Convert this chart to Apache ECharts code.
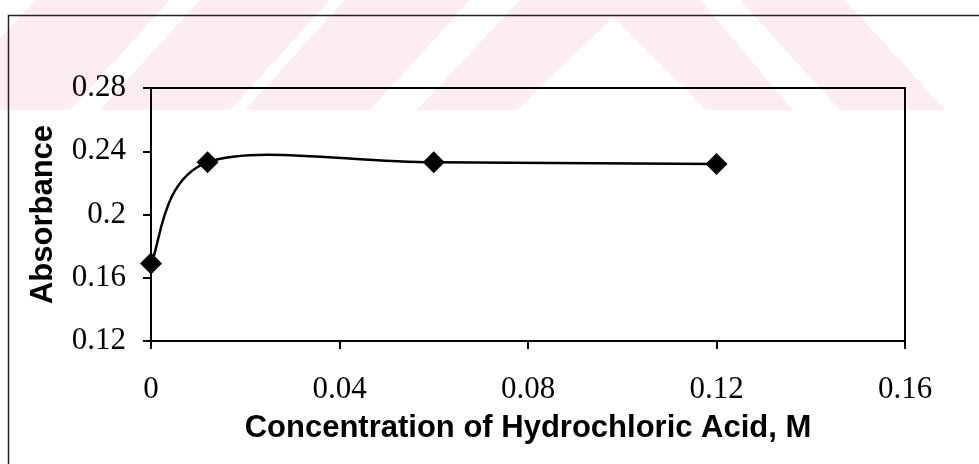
<!DOCTYPE html>
<html>
<head>
<meta charset="utf-8">
<script src="https://cdn.jsdelivr.net/npm/echarts@6/dist/echarts.min.js"></script>
<style>
  html, body { margin: 0; padding: 0; background: #fff; }
  #chart { width: 979px; height: 464px; }
</style>
</head>
<body>
<div id="chart"></div>
<script>
// HCl concentration (M) and measured absorbance
const concentration = [0, 0.012, 0.06, 0.12];
const absorbance = [0.169, 0.233, 0.233, 0.232];

// axis settings
const xTicks = { min: 0, max: 0.16, interval: 0.04 };
const yTicks = { min: 0.12, max: 0.28, interval: 0.04 };

const xTitle = 'Concentration of Hydrochloric Acid, M';
const yTitle = 'Absorbance';

const points = concentration.map((c, i) => [c, absorbance[i]]);

const pink = 'rgb(253,237,240)';
const bandH = 110;

// faint striped watermark along the top of the page
function stripe(x0, x1, shift) {
  return {
    type: 'polygon', z: -10, silent: true,
    shape: { points: [[x0, 0], [x1, 0], [x1 + shift, bandH], [x0 + shift, bandH]] },
    style: { fill: pink }
  };
}
const watermark = [
  stripe(-110, -15, -100),
  stripe(35, 170, -100),
  stripe(200, 330, -100),
  stripe(345, 470, -100),
  {
    type: 'polygon', z: -10, silent: true,
    shape: { points: [[520, 0], [700, 0], [793, bandH], [706, bandH], [613, 17], [517, bandH], [417, bandH]] },
    style: { fill: pink }
  },
  stripe(740, 845, 100)
];

// page frame (top and left edges)
const frame = {
  type: 'polyline', z: 5, silent: true,
  shape: { points: [[8.5, 464], [8.5, 15.5], [979, 15.5]] },
  style: { stroke: '#222', lineWidth: 1.5, fill: null }
};

// spreadsheet-style smoothed line: one cubic Bezier per segment,
// control points from neighbouring points (tension 1/6, capped at half the segment)
function smoothSegment(params, api) {
  const i = params.dataIndex;
  const n = points.length;
  if (i >= n - 1) return null;
  const p = k => api.coord(points[Math.max(0, Math.min(n - 1, k))]);
  const p0 = p(i - 1), p1 = p(i), p2 = p(i + 1), p3 = p(i + 2);
  const dist = (a, b) => Math.hypot(b[0] - a[0], b[1] - a[1]);
  const d12 = dist(p1, p2);
  const d02 = dist(p0, p2), d13 = dist(p1, p3);
  let f = 1 / 6, g = 1 / 6;
  if (d02 / 6 > d12 / 2 && d02 > 0) f = d12 / 2 / d02;
  if (d13 / 6 > d12 / 2 && d13 > 0) g = d12 / 2 / d13;
  return {
    type: 'bezierCurve',
    shape: {
      x1: p1[0], y1: p1[1],
      cpx1: p1[0] + (p2[0] - p0[0]) * f, cpy1: p1[1] + (p2[1] - p0[1]) * f,
      cpx2: p2[0] - (p3[0] - p1[0]) * g, cpy2: p2[1] - (p3[1] - p1[1]) * g,
      x2: p2[0], y2: p2[1]
    },
    style: { stroke: '#000', lineWidth: 2.5, fill: null }
  };
}

const chart = echarts.init(document.getElementById('chart'), null, { renderer: 'canvas' });
chart.setOption({
  backgroundColor: '#fff',
  animation: false,
  graphic: watermark.concat([frame]),
  grid: {
    left: 151, right: 74, top: 88, bottom: 123,
    show: true, borderColor: '#000', borderWidth: 2, backgroundColor: 'transparent'
  },
  xAxis: {
    type: 'value',
    min: xTicks.min, max: xTicks.max, interval: xTicks.interval,
    name: xTitle,
    nameLocation: 'middle',
    nameGap: 72,
    nameTextStyle: { fontFamily: 'Liberation Sans, Arial, sans-serif', fontWeight: 'bold', fontSize: 31, color: '#000' },
    axisLine: { lineStyle: { color: '#000', width: 2 } },
    axisTick: { show: true, length: 8, lineStyle: { color: '#000', width: 2 } },
    axisLabel: { margin: 33, fontFamily: 'Liberation Serif, Times New Roman, serif', fontSize: 31, color: '#000' },
    splitLine: { show: false }
  },
  yAxis: {
    type: 'value',
    min: yTicks.min, max: yTicks.max, interval: yTicks.interval,
    name: yTitle,
    nameLocation: 'middle',
    nameGap: 92,
    nameRotate: 90,
    nameTextStyle: { fontFamily: 'Liberation Sans, Arial, sans-serif', fontWeight: 'bold', fontSize: 31, color: '#000' },
    axisLine: { lineStyle: { color: '#000', width: 2 } },
    axisTick: { show: true, length: 8, lineStyle: { color: '#000', width: 2 } },
    axisLabel: { margin: 25, fontFamily: 'Liberation Serif, Times New Roman, serif', fontSize: 31, color: '#000' },
    splitLine: { show: false }
  },
  series: [
    {
      type: 'custom',
      data: points,
      renderItem: smoothSegment,
      clip: false,
      silent: true,
      z: 2
    },
    {
      type: 'scatter',
      data: points,
      symbol: 'diamond',
      symbolSize: 22,
      itemStyle: { color: '#000', opacity: 1 },
      z: 3
    }
  ]
});
</script>
</body>
</html>
